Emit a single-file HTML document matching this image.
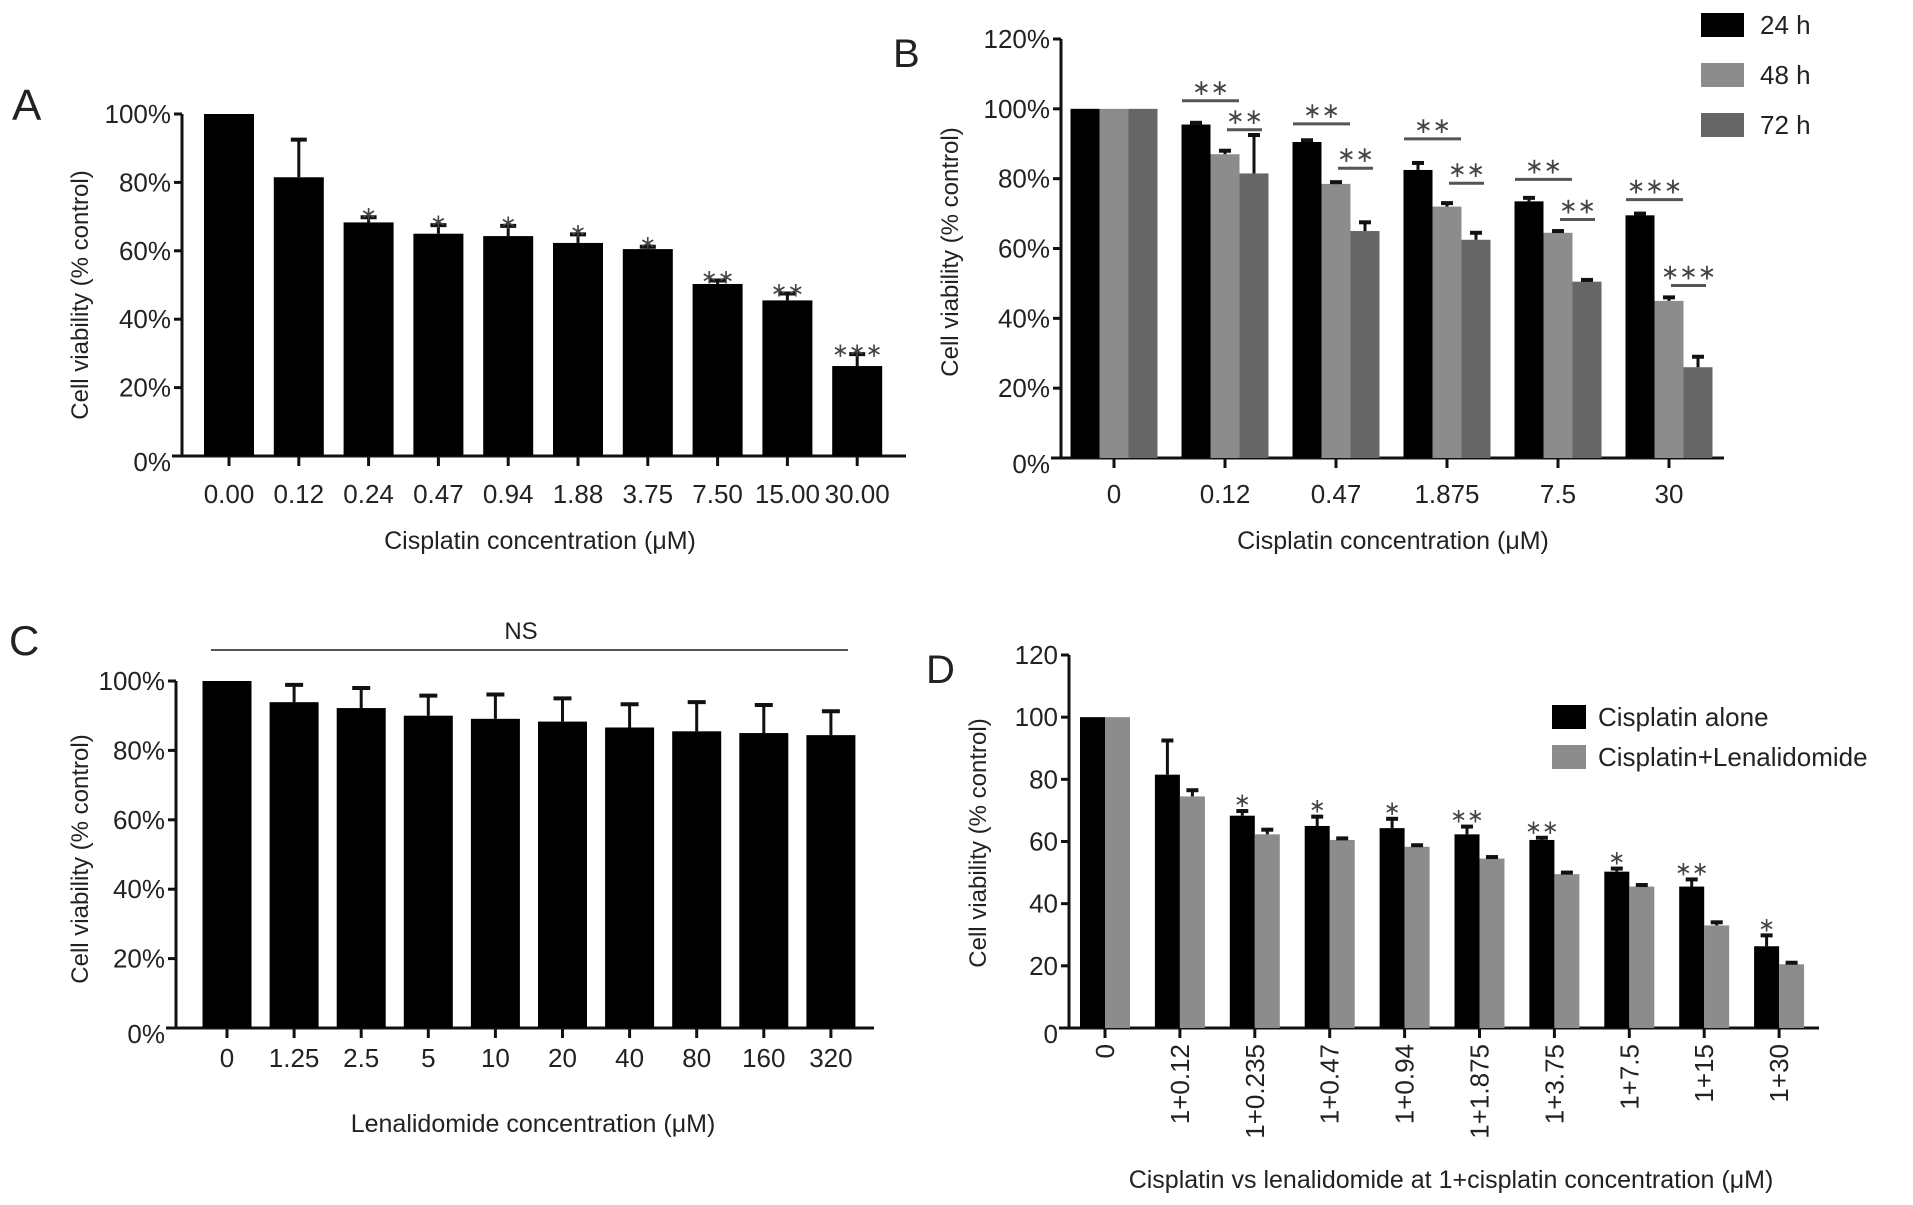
<!DOCTYPE html>
<html><head><meta charset="utf-8">
<style>
html,body{margin:0;padding:0;background:#fff;}
svg{display:block;font-family:"Liberation Sans",Arial,sans-serif;fill:#222;}
</style></head>
<body>
<svg id="fig" width="1913" height="1205" viewBox="0 0 1913 1205" xmlns="http://www.w3.org/2000/svg"></svg>
<script>
// ---------- Panel A data ----------
const aCategories = ["0.00","0.12","0.24","0.47","0.94","1.88","3.75","7.50","15.00","30.00"];
const aValues = [100,81.5,68.3,65,64.3,62.3,60.5,50.3,45.5,26.3];
const aErrors = [0,11,1.5,2.5,3,2.5,0.7,1,2,3.5];
const aStars = ["","","*","*","*","*","*","**","**","***"];
const aTicks = [0,20,40,60,80,100];
// ---------- Panel B data ----------
const bCategories = ["0","0.12","0.47","1.875","7.5","30"];
const bSeries = ["24 h","48 h","72 h"];
const b24 = [100,95.5,90.5,82.5,73.5,69.5];
const b48 = [100,87,78.5,72,64.5,45];
const b72 = [100,81.5,65,62.5,50.5,26];
const b24Err = [0,0.5,0.5,2,1,0.5];
const b48Err = [0,1,0.5,1,0.5,1];
const b72Err = [0,11,2.5,2,0.5,3];
const bBracketHigh = [null,102.3,95.7,91.4,79.8,74];
const bBracketLow = [null,94,83,78.7,68.3,49.4];
const bStarsHigh = ["","**","**","**","**","***"];
const bStarsLow = ["","**","**","**","**","***"];
const bTicks = [0,20,40,60,80,100,120];
// ---------- Panel C data ----------
const cCategories = ["0","1.25","2.5","5","10","20","40","80","160","320"];
const cValues = [100,93.9,92.2,90,89.1,88.3,86.6,85.5,85,84.4];
const cErrors = [0,5,5.8,5.8,7,6.7,6.7,8.4,8.1,6.9];
const cTicks = [0,20,40,60,80,100];
// ---------- Panel D data ----------
const dCategories = ["0","1+0.12","1+0.235","1+0.47","1+0.94","1+1.875","1+3.75","1+7.5","1+15","1+30"];
const dAlone = [100,81.5,68.3,65,64.3,62.3,60.5,50.3,45.5,26.3];
const dCombo = [100,74.5,62.3,60.5,58.3,54.5,49.5,45.5,33,20.5];
const dAloneErr = [0,11,1.5,3,3,2.5,0.7,1,2.3,3.5];
const dComboErr = [0,2,1.5,0.5,0.5,0.5,0.5,0.5,1,0.5];
const dStars = ["","","*","*","*","**","**","*","**","*"];
const dTicks = [0,20,40,60,80,100,120];

const NS="http://www.w3.org/2000/svg";
const svg=document.getElementById('fig');
function mk(tag,attrs,parent,text){
  const e=document.createElementNS(NS,tag);
  for(const k in attrs) e.setAttribute(k,attrs[k]);
  if(text!==undefined) e.textContent=text;
  (parent||svg).appendChild(e);
  return e;
}
function group(name){
  const g=mk('g',{});
  
  
  return g;
}
function yAxis(g,x,y0,y1,vmax,ticks,fmt,x2){
  const sc=v=>y0-(y0-y1)*v/vmax;
  const ax=mk('line',{x1:x,x2:x,y1:y0+1,y2:sc(ticks[ticks.length-1]),stroke:'#111','stroke-width':3},g);
  
  
  ticks.forEach(t=>{
    mk('line',{x1:x-8,x2:x,y1:sc(t),y2:sc(t),stroke:'#111','stroke-width':3},g);
    const tl=mk('text',{x:x-11,y:sc(t)+9+(t===0?6:0),'text-anchor':'end','font-size':26},g,fmt(t));
    
    
  });
  const xa=mk('line',{x1:x-10,x2:x2,y1:y0,y2:y0,stroke:'#111','stroke-width':3},g);
  
  
  return sc;
}
function errBar(g,cx,yTop,yErr,w){
  mk('line',{x1:cx,x2:cx,y1:yTop,y2:yErr,stroke:'#111','stroke-width':3},g);
  mk('line',{x1:cx-w,x2:cx+w,y1:yErr,y2:yErr,stroke:'#111','stroke-width':4},g);
}
function txt(g,name,x,y,s,size,anchor,extra){
  const t=mk('text',Object.assign({x:x,y:y,'font-size':size,'text-anchor':anchor||'middle'},extra||{}),g,s);
  
  
  return t;
}
// ===== Panel A =====
(function(){
  const g=group('panel-a');
  txt(g,'panel-label-a',12,120,'A',44,'start');
  const sc=yAxis(g,182,456,114,100,aTicks,t=>t+'%',906);
  const x0=229,step=69.8,w=50;
  aCategories.forEach((c,i)=>{
    const cx=x0+i*step;
    const r=mk('rect',{x:cx-w/2,y:sc(aValues[i]),width:w,height:456-sc(aValues[i]),fill:'#000'},g);
    
    
    if(aErrors[i]>0) errBar(g,cx,sc(aValues[i]),sc(aValues[i]+aErrors[i]),8);
    if(aStars[i]) txt(g,'significance-stars',cx,sc(aValues[i]+aErrors[i])+3,aStars[i].replace(/\*/g,'∗'),20,'middle',{fill:'#444'});
    mk('line',{x1:cx,x2:cx,y1:456,y2:466,stroke:'#111','stroke-width':3},g);
    txt(g,'x-tick-label',cx,503,c,26);
  });
  txt(g,'x-axis-title',540,549,'Cisplatin concentration (μM)',25);
  txt(g,'y-axis-title',0,0,'Cell viability (% control)',24,'middle',{transform:'translate(88,295) rotate(-90)'});
})();
// ===== Panel B =====
(function(){
  const g=group('panel-b');
  txt(g,'panel-label-b',893,67,'B',40,'start');
  const sc=yAxis(g,1061,458,39,120,bTicks,t=>t+'%',1724);
  const x0=1114,step=111,w=29;
  const series=[b24,b48,b72],errs=[b24Err,b48Err,b72Err],cols=['#000','#8c8c8c','#666'];
  bCategories.forEach((c,i)=>{
    const gc=x0+i*step;
    series.forEach((s,k)=>{
      const cx=gc+(k-1)*w;
      const r=mk('rect',{x:cx-w/2,y:sc(s[i]),width:w,height:458-sc(s[i]),fill:cols[k]},g);
      
      
      if(errs[k][i]>0) errBar(g,cx,sc(s[i]),sc(s[i]+errs[k][i]),6);
    });
    if(bBracketHigh[i]!==null){
      const yh=sc(bBracketHigh[i]);
      mk('line',{x1:gc-w-14,x2:gc+14,y1:yh,y2:yh,stroke:'#555','stroke-width':3},g);
      txt(g,'significance-stars',gc-w/2,yh-6,bStarsHigh[i].replace(/\*/g,'∗'),22,'middle',{fill:'#444'});
      const yl=sc(bBracketLow[i]);
      mk('line',{x1:gc+2,x2:gc+w+8,y1:yl,y2:yl,stroke:'#555','stroke-width':3},g);
      txt(g,'significance-stars',gc+w/2+5,yl-6,bStarsLow[i].replace(/\*/g,'∗'),22,'middle',{fill:'#444'});
    }
    mk('line',{x1:gc,x2:gc,y1:458,y2:468,stroke:'#111','stroke-width':3},g);
    txt(g,'x-tick-label',gc,503,c,26);
  });
  txt(g,'x-axis-title',1393,549,'Cisplatin concentration (μM)',25);
  txt(g,'y-axis-title',0,0,'Cell viability (% control)',24,'middle',{transform:'translate(958,252) rotate(-90)'});
  bSeries.forEach((s,k)=>{
    const y=13+k*50;
    const r=mk('rect',{x:1701,y:y,width:43,height:24,fill:cols[k]},g);
    
    
    txt(g,'legend-entry',1760,y+21,s,26,'start');
  });
})();
// ===== Panel C =====
(function(){
  const g=group('panel-c');
  txt(g,'panel-label-c',9,655,'C',42,'start');
  const sc=yAxis(g,176,1028,681,100,cTicks,t=>t+'%',874);
  const x0=227,step=67.1,w=49;
  cCategories.forEach((c,i)=>{
    const cx=x0+i*step;
    const r=mk('rect',{x:cx-w/2,y:sc(cValues[i]),width:w,height:1028-sc(cValues[i]),fill:'#000'},g);
    
    
    if(cErrors[i]>0) errBar(g,cx,sc(cValues[i]),sc(cValues[i]+cErrors[i]),9);
    mk('line',{x1:cx,x2:cx,y1:1028,y2:1038,stroke:'#111','stroke-width':3},g);
    txt(g,'x-tick-label',cx,1067,c,26);
  });
  const ns=mk('line',{x1:211,x2:848,y1:650,y2:650,stroke:'#555','stroke-width':2},g);
  
  
  txt(g,'ns-label',521,639,'NS',24);
  txt(g,'x-axis-title',533,1132,'Lenalidomide concentration (μM)',25);
  txt(g,'y-axis-title',0,0,'Cell viability (% control)',24,'middle',{transform:'translate(88,859) rotate(-90)'});
})();
// ===== Panel D =====
(function(){
  const g=group('panel-d');
  txt(g,'panel-label-d',926,683,'D',40,'start');
  const sc=yAxis(g,1069,1028,655,120,dTicks,t=>String(t),1819);
  const x0=1105,step=74.9,w=25;
  dCategories.forEach((c,i)=>{
    const gc=x0+i*step;
    [[dAlone,dAloneErr,'#000',-1],[dCombo,dComboErr,'#8c8c8c',0]].forEach(([s,e,col,o],k)=>{
      const x=gc+o*w;
      const r=mk('rect',{x:x,y:sc(s[i]),width:w,height:1028-sc(s[i]),fill:col},g);
      
      
      if(e[i]>0) errBar(g,x+w/2,sc(s[i]),sc(s[i]+e[i]),6);
    });
    if(dStars[i]) txt(g,'significance-stars',gc-w/2,sc(dAlone[i]+dAloneErr[i])-4,dStars[i].replace(/\*/g,'∗'),20,'middle',{fill:'#444'});
    mk('line',{x1:gc,x2:gc,y1:1028,y2:1038,stroke:'#111','stroke-width':3},g);
    txt(g,'x-tick-label',0,0,c,26,'end',{transform:'translate('+(gc+9)+',1044) rotate(-90)'});
  });
  txt(g,'x-axis-title',1451,1188,'Cisplatin vs lenalidomide at 1+cisplatin concentration (μM)',25);
  txt(g,'y-axis-title',0,0,'Cell viability (% control)',24,'middle',{transform:'translate(986,843) rotate(-90)'});
  [['Cisplatin alone','#000'],['Cisplatin+Lenalidomide','#8c8c8c']].forEach(([s,col],k)=>{
    const y=705+k*40;
    const r=mk('rect',{x:1552,y:y,width:34,height:24,fill:col},g);
    
    
    txt(g,'legend-entry',1598,y+21,s,26,'start');
  });
})();
</script>
</body></html>
